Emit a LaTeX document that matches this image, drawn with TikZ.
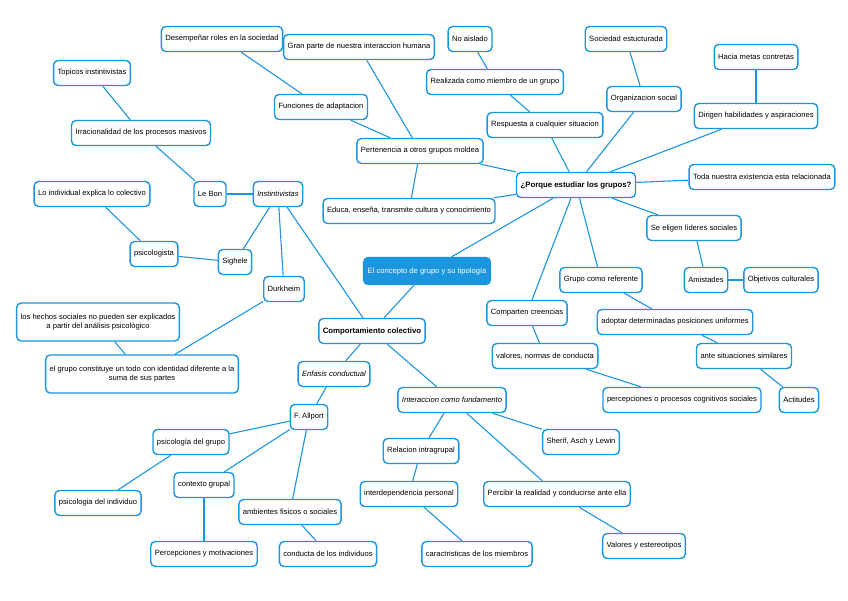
\documentclass[tikz,border=0pt]{standalone}
\usepackage{fontspec}
\setmainfont{Liberation Sans}
\usetikzlibrary{backgrounds}
\definecolor{mb}{RGB}{27,150,222}
\tikzset{
 b/.style={draw=mb,line width=1.4pt,rounded corners=4.5pt,fill=white,minimum height=25pt,inner xsep=4pt,font=\fontsize{7.6}{9.5}\selectfont},
 bb/.style={b,font=\bfseries\fontsize{7.8}{9.5}\selectfont},
 bi/.style={b,font=\itshape\fontsize{7.6}{9.5}\selectfont},
 main/.style={b,fill=mb,text=white,minimum height=27pt},
 e/.style={draw=mb,line width=1.1pt}
}
\begin{document}
\begin{tikzpicture}[x=1pt,y=-1pt]
\useasboundingbox (0,0) rectangle (848,600);
\node[main] (central) at (427,271) {El concepto de grupo y su tipología};
\node[bb] (porque) at (576,185) {¿Porque estudiar los grupos?};
\node[bb] (comp) at (372,331) {Comportamiento colectivo};
\node[bi] (instint) at (278,194) {Instintivistas};
\node[b] (lebon) at (210,194) {Le Bon};
\node[b] (irrac) at (141,133) {Irracionalidad de los procesos masivos};
\node[b] (topicos) at (92,73) {Topicos instintivistas};
\node[b] (loind) at (92,194) {Lo individual explica lo colectivo};
\node[b] (psicologista) at (154,254) {psicologista};
\node[b] (sighele) at (235,262) {Sighele};
\node[b] (durkheim) at (284,289) {Durkheim};
\node[b,align=center,minimum height=38pt] (hechos) at (98,322) {los hechos sociales no pueden ser explicados\\a partir del análisis psicológico};
\node[b,align=center,minimum height=38pt] (elgrupo) at (142,374) {el grupo constituye un todo con identidad diferente a la\\suma de sus partes};
\node[bi] (enfasis) at (334,374) {Enfasis conductual};
\node[b] (allport) at (309,417) {F. Allport};
\node[b] (psicogrupo) at (191,442) {psicología del grupo};
\node[b] (psicoindiv) at (98,503) {psicologia del individuo};
\node[b] (contexto) at (204,485) {contexto grupal};
\node[b] (ambientes) at (290,512) {ambientes fisicos o sociales};
\node[b] (percep) at (204,554) {Percepciones y motivaciones};
\node[b] (conducta) at (328,554) {conducta de los individuos};
\node[bi] (interaccion) at (452,400) {Interaccion como fundamento};
\node[b] (relacion) at (421,451) {Relacion intragrupal};
\node[b] (interdep) at (409,494) {interdependencia personal};
\node[b] (caract) at (477,554) {caractristicas de los miembros};
\node[b] (sherif) at (581,442) {Sherif, Asch y Lewin};
\node[b] (percibir) at (557,494) {Percibir la realidad y conducirse ante ella};
\node[b] (valest) at (644,546) {Valores y estereotipos};
\node[b] (comparten) at (527,313) {Comparten creencias};
\node[b] (valcres) at (545,356) {valores, normas de conducta};
\node[b] (percog) at (682,400) {percepciones o procesos cognitivos sociales};
\node[b] (grupocomo) at (601,280) {Grupo como referente};
\node[b] (adoptar) at (675,322) {adoptar determinadas posiciones uniformes};
\node[b] (antesit) at (744,356) {ante situaciones similares};
\node[b] (actitudes) at (799,400) {Actitudes};
\node[b] (amistades) at (706,280) {Amistades};
\node[b] (objetivos) at (781,280) {Objetivos culturales};
\node[b] (seeligen) at (694,228) {Se eligen líderes sociales};
\node[b] (toda) at (762,177) {Toda nuestra existencia esta relacionada};
\node[b] (dirigen) at (756,116) {Dirigen habilidades y aspiraciones};
\node[b] (hacia) at (756,57) {Hacia metas contretas};
\node[b] (organiz) at (644,99) {Organizacion social};
\node[b] (sociedad) at (626,39) {Sociedad estucturada};
\node[b] (respuesta) at (545,125) {Respuesta a cualquier situacion};
\node[b] (realizada) at (495,82) {Realizada como miembro de un grupo};
\node[b] (noaislado) at (470,39) {No aislado};
\node[b] (pertenencia) at (420,151) {Pertenencia a otros grupos moldea};
\node[b] (educa) at (409,211) {Educa, enseña, transmite cultura y conocimiento};
\node[b] (funciones) at (321,107) {Funciones de adaptacion};
\node[b] (desempenar) at (222,39) {Desempeñar roles en la sociedad};
\node[b] (granparte) at (359,47) {Gran parte de nuestra interaccion humana};
\begin{pgfonlayer}{background}
\foreach \a/\c in {central/porque,central/comp,porque/respuesta,porque/organiz,porque/dirigen,porque/toda,porque/seeligen,porque/grupocomo,porque/comparten,porque/educa,porque/pertenencia,respuesta/realizada,realizada/noaislado,organiz/sociedad,dirigen/hacia,seeligen/amistades,amistades/objetivos,grupocomo/adoptar,adoptar/antesit,antesit/actitudes,comparten/valcres,valcres/percog,pertenencia/funciones,funciones/desempenar,pertenencia/granparte,pertenencia/educa,comp/instint,comp/enfasis,comp/interaccion,instint/lebon,instint/sighele,instint/durkheim,lebon/irrac,irrac/topicos,sighele/psicologista,psicologista/loind,durkheim/elgrupo,elgrupo/hechos,enfasis/allport,allport/psicogrupo,allport/contexto,allport/ambientes,psicogrupo/psicoindiv,contexto/percep,ambientes/conducta,interaccion/relacion,interaccion/sherif,interaccion/percibir,relacion/interdep,interdep/caract,percibir/valest}
 \draw[e] (\a) -- (\c);
\end{pgfonlayer}
\end{tikzpicture}
\end{document}
